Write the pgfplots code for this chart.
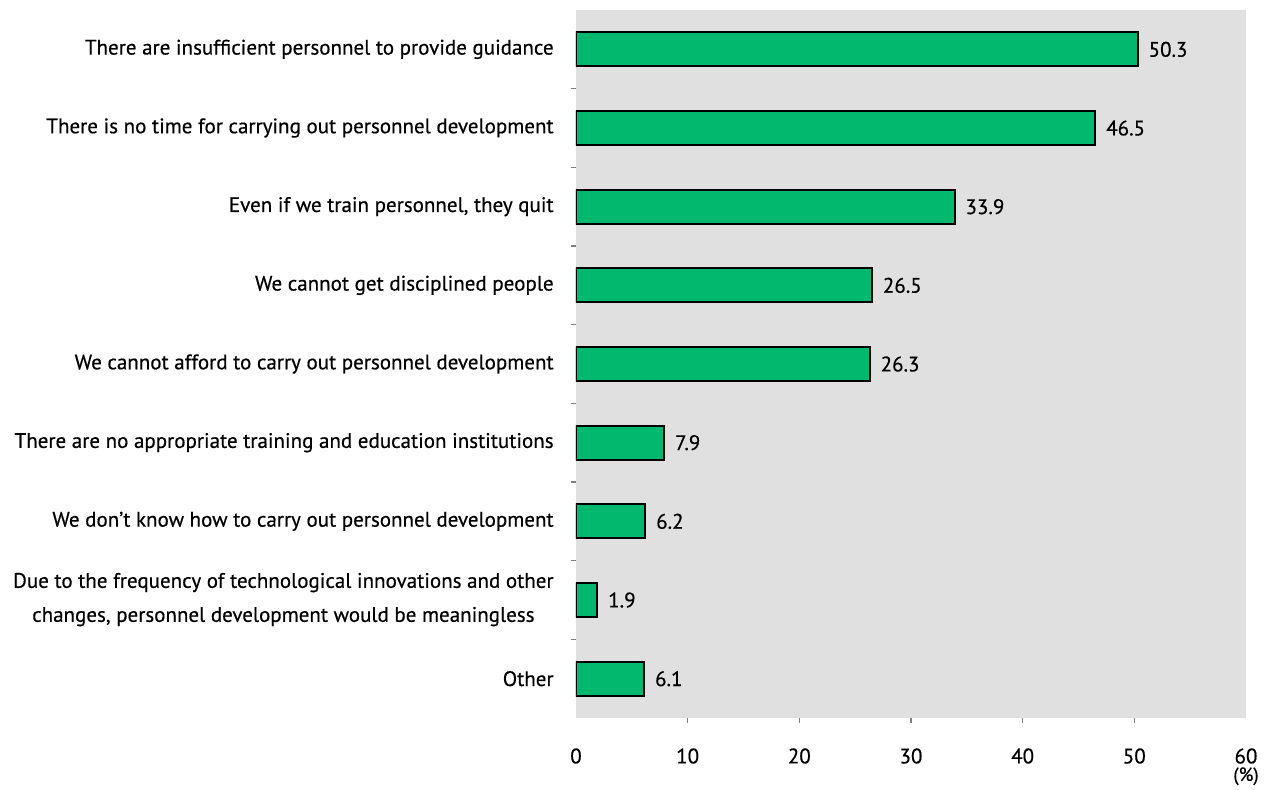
\documentclass[border=0pt]{standalone}
\usepackage{fontspec}
\setmainfont{PT Sans}[FakeBold=0.5]
\usepackage{pgfplots}
\pgfplotsset{compat=1.18}
\definecolor{barg}{HTML}{00B96F}
\definecolor{bgc}{HTML}{E0E0E0}
\begin{document}
\fontsize{10.5}{12}\selectfont
\begin{tikzpicture}
\useasboundingbox (-288pt,-35.5pt) rectangle (346.5pt,359pt);
\begin{axis}[
  at={(0,0)}, anchor=south west, scale only axis,
  width=335pt, height=354pt,
  font=\fontsize{10.5}{12}\selectfont,
  xbar, bar width=17pt,
  xmin=0, xmax=60,
  ymin=-0.5, ymax=8.5,
  y dir=reverse,
  axis background/.style={fill=bgc},
  axis line style={draw=none},
  tick align=outside,
  xtick pos=bottom, ytick pos=left,
  /pgf/number format/assume math mode=true,
  xtick={0,10,20,30,40,50,60},
  x tick style={draw=none},
  extra x ticks={10,20,30,40,50},
  extra x tick labels={},
  extra x tick style={x tick style={draw=gray}},
  major tick length=2.5pt,
  tick style={gray, line width=0.6pt},
  xticklabel style={yshift=-9pt},
  ytick={0,...,8},
  yticklabels={
    There are insufficient personnel to provide guidance,
    There is no time for carrying out personnel development,
    {Even if we train personnel, they quit},
    We cannot get disciplined people,
    We cannot afford to carry out personnel development,
    There are no appropriate training and education institutions,
    We don't know how to carry out personnel development,
    {\begin{tabular}{@{}c@{}}Due to the frequency of technological innovations and other\\[5pt] changes, personnel development would be meaningless\end{tabular}},
    Other},
  y tick style={draw=none},
  yticklabel style={align=right, xshift=-5pt},
  extra y ticks={0.5,1.5,2.5,3.5,4.5,5.5,6.5,7.5},
  extra y tick labels={},
  extra y tick style={y tick style={draw=gray}},
  nodes near coords={\pgfmathprintnumber[fixed,fixed zerofill,precision=1,assume math mode=true]{\pgfplotspointmeta}},
  nodes near coords style={anchor=west, xshift=1.5pt, black},
  point meta=x,
]
\addplot[draw=black, line width=1pt, fill=barg] coordinates {
  (50.3,0) (46.5,1) (33.9,2) (26.5,3) (26.3,4) (7.9,5) (6.2,6) (1.9,7) (6.1,8)
};
\end{axis}
\node[anchor=north, inner sep=0.5pt, font=\fontsize{9.5}{11}\selectfont] at (335pt,-24pt) {(\%)};
\end{tikzpicture}
\end{document}
